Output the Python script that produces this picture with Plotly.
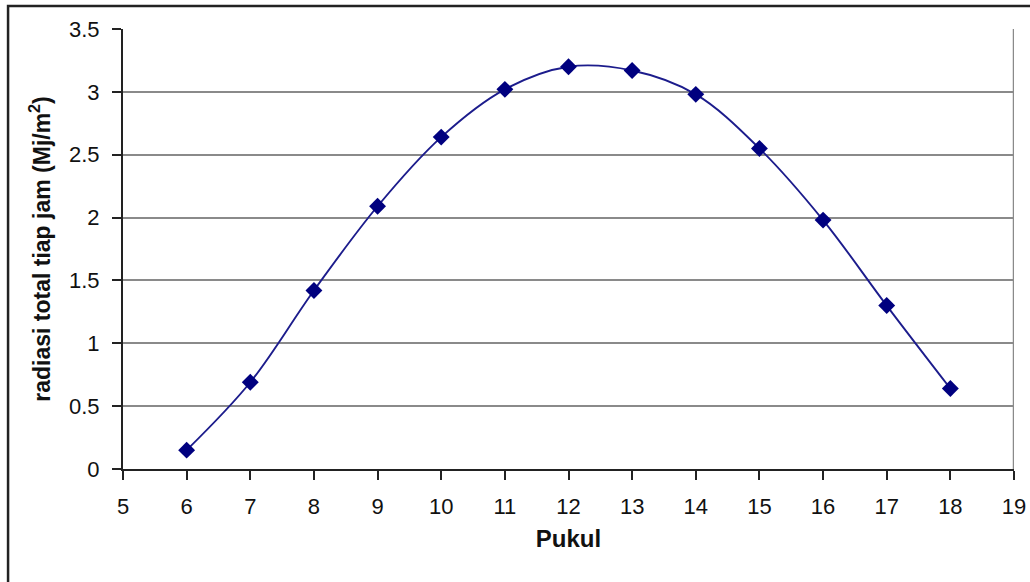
import plotly.graph_objects as go

# Hourly total radiation
pukul = [6, 7, 8, 9, 10, 11, 12, 13, 14, 15, 16, 17, 18]
radiasi = [0.15, 0.69, 1.42, 2.09, 2.64, 3.02, 3.20, 3.17, 2.98, 2.55, 1.98, 1.30, 0.64]

x_ticks = list(range(5, 20))
y_ticks = [0, 0.5, 1, 1.5, 2, 2.5, 3, 3.5]
y_tick_text = ["0", "0.5", "1", "1.5", "2", "2.5", "3", "3.5"]

navy = "#00007f"
font_family = "Liberation Sans, Arial, sans-serif"

fig = go.Figure()
fig.add_trace(go.Scatter(
    x=pukul, y=radiasi,
    mode="lines+markers",
    line=dict(color="#1c1c8c", width=1.9, shape="spline", smoothing=1.0),
    marker=dict(symbol="diamond", size=13, color=navy),
    showlegend=False,
))

fig.update_layout(
    width=1030, height=582,
    margin=dict(l=123, r=16, t=29, b=113),
    paper_bgcolor="white",
    plot_bgcolor="white",
    font=dict(family=font_family, color="#111111"),
    xaxis=dict(
        range=[5, 19], tickvals=x_ticks, ticktext=[str(v) for v in x_ticks],
        showgrid=False, zeroline=False, automargin=False,
        showline=True, linecolor="#222222", linewidth=2,
        ticks="outside", ticklen=9, tickwidth=2, tickcolor="#222222",
        tickfont=dict(size=22, family=font_family),
        ticklabelstandoff=8,
        title=dict(text="<b>Pukul</b>", font=dict(size=24, family=font_family), standoff=12),
    ),
    yaxis=dict(
        range=[0, 3.5], tickvals=y_ticks, ticktext=y_tick_text,
        showgrid=True, gridcolor="#8a8a8a", gridwidth=2,
        zeroline=False, automargin=False,
        showline=True, linecolor="#222222", linewidth=2,
        ticks="outside", ticklen=9, tickwidth=2, tickcolor="#222222",
        tickfont=dict(size=22, family=font_family),
        ticklabelstandoff=8,
        title=dict(text="<b>radiasi total tiap jam (Mj/m<sup>2</sup>)</b>",
                   font=dict(size=23, family=font_family), standoff=12),
    ),
)

# gray right edge of the plotting area
fig.add_shape(type="line", xref="x", yref="y", x0=19, x1=19, y0=0, y1=3.5,
              line=dict(color="#8a8a8a", width=2.5), layer="below")

# outer frame around the whole chart
fig.add_shape(type="rect", xref="paper", yref="paper",
              x0=-0.129, x1=1.03, y0=-0.275, y1=1.052,
              line=dict(color="#222222", width=2.5), fillcolor="rgba(0,0,0,0)")

fig.write_html("out.html")
